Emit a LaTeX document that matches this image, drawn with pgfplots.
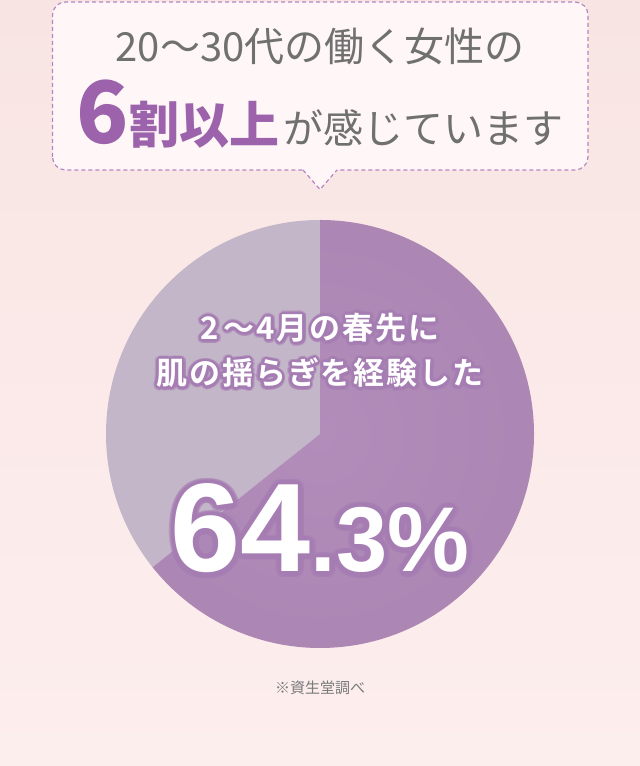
\documentclass[border=0pt]{standalone}
\usepackage{pgfplots}
\pgfplotsset{compat=1.18}
\usepackage{fontspec}
\setmainfont{Noto Sans CJK JP}
\newfontfamily\jpreg{Noto Sans CJK JP}
\newfontfamily\jpbold{Noto Sans CJK JP Bold}
\newfontfamily\jpboldsp{Noto Sans CJK JP Bold}[LetterSpace=6]
\newfontfamily\jpblack{Noto Sans CJK JP Black}
\newfontfamily\numbold{Liberation Sans Bold}

\definecolor{bgtop}{HTML}{F8E5E3}
\definecolor{bgbot}{HTML}{FDEEEE}
\definecolor{boxfill}{HTML}{FEF6F7}
\definecolor{boxline}{HTML}{B585C4}
\definecolor{titlegrey}{HTML}{707070}
\definecolor{titlepurple}{HTML}{9C62AB}
\definecolor{piePurple}{HTML}{B28DBA}
\definecolor{pieEdge}{HTML}{A984B2}
\definecolor{pieGrey}{HTML}{C4B6C9}
\definecolor{glow}{HTML}{A67DB3}
\definecolor{notegrey}{HTML}{7A7A7A}

% share of the purple slice (experienced) and of the grey slice, in percent
\def\shareYes{64.3}
\def\shareNo{35.7}

\newcommand\glowtext[5]{% x, y, glow radius, anchor, content
  \foreach \a in {0,22.5,...,337.5}
    \node[text=glow, opacity=0.35, inner sep=0pt, anchor=#4, shift={(\a:#3*1.7)}] at (#1,#2) {#5};
  \foreach \a in {0,22.5,...,337.5}
    \node[text=glow, inner sep=0pt, anchor=#4, shift={(\a:#3)}] at (#1,#2) {#5};
  \node[text=white, inner sep=0pt, anchor=#4] at (#1,#2) {#5};}

\begin{document}
\begin{tikzpicture}[x=1bp,y=1bp]
\shade[top color=bgtop, bottom color=bgbot] (0,0) rectangle (640,766);

% speech bubble
\draw[fill=boxfill, draw=boxline, line width=1.2bp, dash pattern=on 4bp off 3bp, rounded corners=13bp]
  (52.5,596) rectangle (588,764);
\fill[boxfill] (302.5,596.8) -- (337.5,596.8) -- (320,576.5) -- cycle;
\draw[boxline, line width=1.2bp, dash pattern=on 4bp off 3bp] (303,596) -- (320,576.5) -- (337,596);

\node[text=titlegrey, inner sep=0pt, anchor=base] at (320,704)
  {\jpreg\fontsize{40bp}{42bp}\selectfont 20～30代の働く女性の};
\node[text=titlegrey, inner sep=0pt, anchor=base] at (320,622)
  {{\color{titlepurple}\jpblack\fontsize{86bp}{86bp}\selectfont 6\fontsize{50bp}{50bp}\selectfont 割以上}\hspace{4bp}\jpreg\fontsize{40bp}{40bp}\selectfont が感じています};

\begin{axis}[at={(320bp,332bp)}, anchor=center, scale only axis,
  width=428bp, height=428bp, xmin=-1, xmax=1, ymin=-1, ymax=1,
  hide axis, clip=false]
\fill[pieGrey] (axis cs:0,0) -- (axis cs:0,1)
  arc[start angle=90, end angle={90+3.6*\shareNo}, radius=214bp] -- cycle;
\begin{scope}
\clip (axis cs:0,0) -- (axis cs:0,1)
  arc[start angle=90, end angle={90-3.6*\shareYes}, radius=214bp] -- cycle;
\shade[inner color=piePurple, outer color=pieEdge] (axis cs:0,0) circle[radius=300bp];
\end{scope}
\end{axis}

\glowtext{320}{438}{2.2bp}{center}{\jpboldsp\fontsize{31bp}{31bp}\selectfont 2\,～4月の春先に}
\glowtext{320}{393}{2.2bp}{center}{\jpboldsp\fontsize{31bp}{31bp}\selectfont 肌の揺らぎを経験した}
\glowtext{320}{194}{3.5bp}{base}{\numbold\fontsize{126bp}{126bp}\selectfont 64\fontsize{92bp}{92bp}\selectfont.3\%}

\node[text=notegrey, inner sep=0pt] at (320,78)
  {\jpreg\fontsize{15bp}{15bp}\selectfont ※資生堂調べ};
\end{tikzpicture}
\end{document}
